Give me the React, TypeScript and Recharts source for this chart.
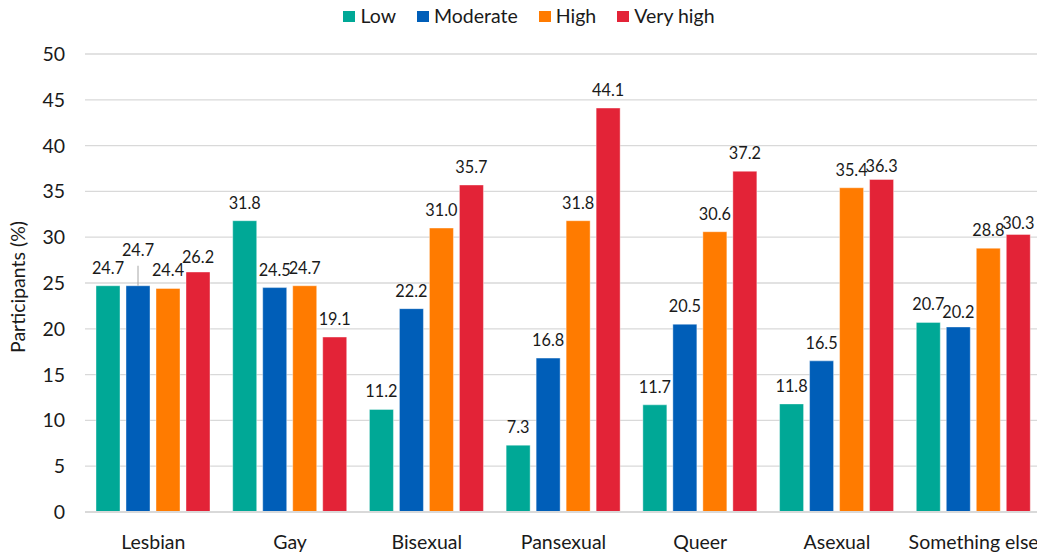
// Participants (%) by orientation, grouped by level: Low / Moderate / High / Very high.
// Legend is a plain HTML row above the chart; value labels sit over each bar.

import { BarChart, Bar, XAxis, YAxis, CartesianGrid, LabelList } from "recharts";

const CATEGORIES = [
  "Lesbian",
  "Gay",
  "Bisexual",
  "Pansexual",
  "Queer",
  "Asexual",
  "Something else",
];

const LOW = [24.7, 31.8, 11.2, 7.3, 11.7, 11.8, 20.7];
const MODERATE = [24.7, 24.5, 22.2, 16.8, 20.5, 16.5, 20.2];
const HIGH = [24.4, 24.7, 31.0, 31.8, 30.6, 35.4, 28.8];
const VERY_HIGH = [26.2, 19.1, 35.7, 44.1, 37.2, 36.3, 30.3];

const Y_TICKS = [0, 5, 10, 15, 20, 25, 30, 35, 40, 45, 50];

const FONT = "Lato, 'Open Sans', sans-serif";
const TEXT = "#1a1a1a";
const GRID = "#d9d9d9";

const SERIES = [
  { key: "low", name: "Low", color: "#00a896" },
  { key: "moderate", name: "Moderate", color: "#005eb8" },
  { key: "high", name: "High", color: "#ff7b00" },
  { key: "veryHigh", name: "Very high", color: "#e32337" },
];

const data = CATEGORIES.map((name, i) => ({
  name,
  low: LOW[i],
  moderate: MODERATE[i],
  high: HIGH[i],
  veryHigh: VERY_HIGH[i],
}));

// label gap above bar top (px); a few labels were moved in the original
const LABEL_GAP = 12;
const LABEL_NUDGE: Record<string, number> = {
  "moderate-0": 30,
  "veryHigh-0": 9,
  "veryHigh-5": 7,
  "veryHigh-6": 5,
  "moderate-6": 9,
};

const makeLabel = (seriesKey: string) => (props: any) => {
  const { x, y, width, value, index } = props;
  const gap = LABEL_NUDGE[`${seriesKey}-${index}`] ?? LABEL_GAP;
  const cx = Number(x) + Number(width) / 2;
  const top = Number(y);
  const leader = seriesKey === "moderate" && index === 0;
  return (
    <g>
      {leader && (
        <line x1={cx} x2={cx} y1={top} y2={top - gap + 10} stroke="#a6a6a6" strokeWidth={1} />
      )}
      <text
        x={cx}
        y={top - gap}
        textAnchor="middle"
        fontSize={16.3}
        fontFamily={FONT}
        fill={TEXT}
      >
        {Number(value).toFixed(1)}
      </text>
    </g>
  );
};

function LegendRow() {
  return (
    <div
      style={{
        position: "absolute",
        top: 4,
        left: 0,
        width: 1058,
        display: "flex",
        justifyContent: "center",
        gap: 21,
        fontFamily: FONT,
        fontSize: 19.5,
        color: TEXT,
        lineHeight: "24px",
      }}
    >
      {SERIES.map((s) => (
        <div key={s.key} style={{ display: "flex", alignItems: "center", gap: 5 }}>
          <span style={{ width: 12, height: 11, background: s.color, display: "inline-block" }} />
          <span>{s.name}</span>
        </div>
      ))}
    </div>
  );
}

export default function App() {
  return (
    <div
      style={{
        position: "absolute",
        left: 0,
        top: 0,
        width: 1037,
        height: 554,
        overflow: "hidden",
        background: "#fff",
      }}
    >
      <BarChart
        width={1048}
        height={554}
        data={data}
        margin={{ top: 54, right: 6, left: 0, bottom: 0 }}
        barCategoryGap={11}
        barGap={6}
      >
        <CartesianGrid vertical={false} stroke={GRID} strokeWidth={1.3} />
        <XAxis
          dataKey="name"
          height={42}
          tickLine={false}
          tickSize={0}
          tickMargin={23}
          axisLine={{ stroke: GRID, strokeWidth: 2 }}
          tick={{ fontSize: 19.5, fill: TEXT, fontFamily: FONT }}
          interval={0}
        />
        <YAxis
          width={85}
          domain={[0, 50]}
          ticks={Y_TICKS}
          tickLine={false}
          tickSize={0}
          tickMargin={20}
          axisLine={false}
          tick={{ fontSize: 19.5, fill: TEXT, fontFamily: FONT }}
          label={{
            value: "Participants (%)",
            angle: -90,
            position: "center",
            dx: -24,
            dy: 4,
            style: { fontSize: 19.5, fill: TEXT, fontFamily: FONT },
          }}
        />
        {SERIES.map((s) => (
          <Bar
            key={s.key}
            dataKey={s.key}
            name={s.name}
            fill={s.color}
            stroke="#ffffff"
            strokeOpacity={0.5}
            strokeWidth={0.8}
            isAnimationActive={false}
          >
            <LabelList dataKey={s.key} content={makeLabel(s.key)} />
          </Bar>
        ))}
      </BarChart>
      <LegendRow />
    </div>
  );
}
